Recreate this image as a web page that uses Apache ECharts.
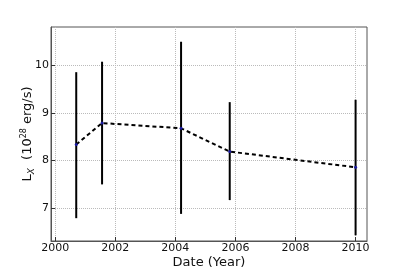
<!DOCTYPE html>
<html><head><meta charset="utf-8">
<script src="https://cdn.jsdelivr.net/npm/echarts@6/dist/echarts.min.js"></script>
<style>html,body{margin:0;padding:0;background:#fff}#c{width:407px;height:274px}</style>
</head><body><div id="c"></div>
<script>
const years = [2000.7, 2001.56, 2004.19, 2005.81, 2010.0];
const lx = [8.34, 8.79, 8.68, 8.19, 7.86];
const errLow = [6.79, 7.50, 6.88, 7.17, 6.43];
const errHigh = [9.86, 10.08, 10.50, 9.23, 9.28];
const xTicks = [2000, 2002, 2004, 2006, 2008, 2010];
const yTicks = [7, 8, 9, 10];

const chart = echarts.init(document.getElementById('c'));
const font = 'DejaVu Sans';
chart.setOption({
  animation: false,
  grid: {left: 51, right: 40, top: 27, bottom: 28, show: true, borderColor: '#555', borderWidth: 1},
  xAxis: {
    type: 'value', min: 1999.86, max: 2010.38,
    axisLine: {show: true, lineStyle: {color: '#555'}},
    axisTick: {show: true, inside: true, length: 4, customValues: xTicks, lineStyle: {color: '#333'}},
    axisLabel: {customValues: xTicks, formatter: v => String(Math.round(v)), color: '#111', fontFamily: font, fontSize: 11, margin: 2},
    splitLine: {show: true, lineStyle: {color: '#bbb', type: [1, 1], width: 1}},
    name: 'Date (Year)', nameLocation: 'middle', nameGap: 15, nameMoveOverlap: false,
    nameTextStyle: {color: '#111', fontFamily: font, fontSize: 13}
  },
  yAxis: {
    type: 'value', min: 6.31, max: 10.81,
    axisLine: {show: true, lineStyle: {color: '#555'}},
    axisTick: {show: true, inside: true, length: 4, customValues: yTicks, lineStyle: {color: '#333'}},
    axisLabel: {customValues: yTicks, formatter: v => String(Math.round(v)), color: '#111', fontFamily: font, fontSize: 11, margin: 2},
    splitLine: {show: true, lineStyle: {color: '#bbb', type: [1, 1], width: 1}},
    name: '{n|L}{sub|X}{n|  (10}{sup|28}{n| erg/s)}', nameLocation: 'middle', nameGap: 13, nameRotate: 90, nameMoveOverlap: false,
    nameTextStyle: {
      color: '#111', fontFamily: font, fontSize: 13,
      rich: {
        n: {fontFamily: font, fontSize: 13, color: '#111', lineHeight: 20, verticalAlign: 'middle'},
        sub: {fontFamily: font, fontSize: 9, fontStyle: 'italic', color: '#111', lineHeight: 20, verticalAlign: 'bottom', padding: [0, 0, 2, 0]},
        sup: {fontFamily: font, fontSize: 8, color: '#111', lineHeight: 20, verticalAlign: 'top', padding: [2, 0, 0, 0]}
      }
    }
  },
  series: [
    {
      type: 'custom',
      renderItem: function (params, api) {
        const x = api.value(0);
        const p1 = api.coord([x, api.value(1)]);
        const p2 = api.coord([x, api.value(2)]);
        return {
          type: 'line',
          shape: {x1: p1[0], y1: p1[1], x2: p2[0], y2: p2[1]},
          style: {stroke: '#000', lineWidth: 2}
        };
      },
      data: years.map((y, i) => [y, errLow[i], errHigh[i]]),
      z: 2
    },
    {
      type: 'line',
      data: years.map((y, i) => [y, lx[i]]),
      lineStyle: {color: '#000', width: 2, type: [4, 3]},
      symbol: 'circle', symbolSize: 3,
      itemStyle: {color: '#1a1aa0'},
      z: 3
    }
  ]
});
</script></body></html>
